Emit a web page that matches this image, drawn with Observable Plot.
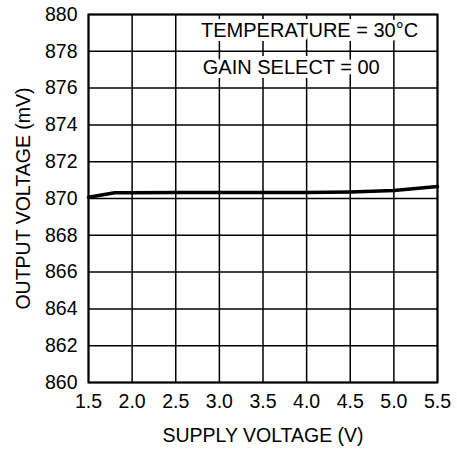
<!DOCTYPE html>
<html>
<head>
<meta charset="utf-8">
<script src="https://cdn.jsdelivr.net/npm/d3@7"></script>
<script src="https://cdn.jsdelivr.net/npm/@observablehq/plot@0.6"></script>
<style>
  html, body { margin: 0; padding: 0; background: #fff; }
  svg { font-family: "Liberation Sans", Arial, sans-serif; }
</style>
</head>
<body>
<div id="chart"></div>
<script>
// Supply voltage (V) and output voltage (mV)
const supplyVoltage = [1.5, 1.8, 2.0, 2.5, 3.0, 3.5, 4.0, 4.5, 5.0, 5.5];
const outputVoltage = [870.07, 870.31, 870.31, 870.32, 870.32, 870.32, 870.33, 870.36, 870.43, 870.65];
const xTicks = [1.5, 2.0, 2.5, 3.0, 3.5, 4.0, 4.5, 5.0, 5.5];
const yTicks = [860, 862, 864, 866, 868, 870, 872, 874, 876, 878, 880];
const notes = ["TEMPERATURE = 30°C", "GAIN SELECT = 00"];
const noteX = [2.79, 2.81];
const noteY = [879.13, 877.12];

const series = supplyVoltage.map((v, i) => ({v, mv: outputVoltage[i]}));
const noteData = notes.map((t, i) => ({t, x: noteX[i], y: noteY[i]}));

const chart = Plot.plot({
  width: 457,
  height: 449,
  marginLeft: 88,
  marginRight: 20,
  marginTop: 14,
  marginBottom: 67,
  style: {fontFamily: '"Liberation Sans", Arial, sans-serif', fontSize: "19.5px", color: "#000", background: "#fff"},
  x: {domain: [1.5, 5.5]},
  y: {domain: [860, 880]},
  marks: [
    Plot.gridX(xTicks, {stroke: "#000", strokeOpacity: 1, strokeWidth: 1.5}),
    Plot.gridY(yTicks, {stroke: "#000", strokeOpacity: 1, strokeWidth: 1.5}),
    Plot.text(noteData, {x: "x", y: "y", text: "t", textAnchor: "start", fontSize: 20, fill: "#000", stroke: "#fff", strokeWidth: 8}),
    Plot.line(series, {x: "v", y: "mv", stroke: "#000", strokeWidth: 3.5}),
    Plot.frame({stroke: "#000", strokeWidth: 2}),
    Plot.axisX(xTicks, {tickSize: 0, tickPadding: 12, fontSize: 19.5, tickFormat: d => d.toFixed(1), label: "SUPPLY VOLTAGE (V)", labelAnchor: "center", labelArrow: "none", labelOffset: 59}),
    Plot.axisY(yTicks, {tickSize: 0, tickPadding: 11, fontSize: 19.5, tickFormat: d => String(d), label: "OUTPUT VOLTAGE (mV)", labelAnchor: "center", labelArrow: "none", labelOffset: 72})
  ]
});
document.getElementById("chart").appendChild(chart);
</script>
</body>
</html>
